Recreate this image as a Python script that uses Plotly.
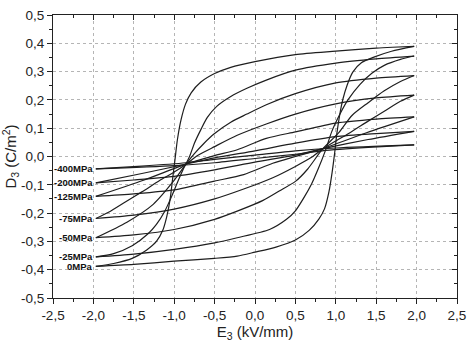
import plotly.graph_objects as go

# ---------------- data ----------------
stress_labels = ["0MPa", "-25MPa", "-50MPa", "-75MPa", "-125MPa", "-200MPa", "-400MPa"]

# 0 MPa loop
up0_E = [1.97, 1.7, 1.5, 1.0, 0.5, 0.0, -0.3, -0.5, -0.67, -0.79, -0.86, -0.915, -0.96, -0.99,
         -1.02, -1.05, -1.09, -1.14, -1.22, -1.34, -1.52, -1.75, -1.97]
up0_D = [0.389, 0.386, 0.383, 0.372, 0.360, 0.335, 0.315, 0.293, 0.263, 0.225, 0.185, 0.130, 0.060, -0.010,
         -0.080, -0.150, -0.210, -0.260, -0.300, -0.330, -0.360, -0.378, -0.388]
lo0_E = [-1.97, -1.5, -1.0, -0.5, -0.22, 0.0, 0.26, 0.5, 0.67, 0.79, 0.86, 0.915, 0.955, 0.985,
         1.015, 1.05, 1.09, 1.14, 1.21, 1.32, 1.48, 1.69, 1.97]
lo0_D = [-0.388, -0.381, -0.370, -0.360, -0.352, -0.338, -0.320, -0.295, -0.261, -0.221, -0.185, -0.125, -0.055, 0.010,
         0.085, 0.150, 0.205, 0.252, 0.298, 0.332, 0.352, 0.372, 0.389]

# -25 MPa loop
up25_E = [1.97, 1.5, 1.0, 0.5, 0.14, -0.1, -0.3, -0.47, -0.59, -0.67, -0.75, -0.81, -0.88, -0.95,
          -1.03, -1.12, -1.22, -1.32, -1.52, -1.75, -1.97]
up25_D = [0.355, 0.345, 0.330, 0.305, 0.270, 0.241, 0.212, 0.178, 0.138, 0.095, 0.047, 0.000, -0.040, -0.085,
          -0.140, -0.195, -0.240, -0.272, -0.315, -0.343, -0.355]
lo25_E = [-1.97, -1.5, -1.0, -0.5, -0.22, 0.18, 0.39, 0.5, 0.6, 0.7, 0.78, 0.87, 0.95, 1.05,
          1.15, 1.3, 1.45, 1.6, 1.8, 1.97]
lo25_D = [-0.355, -0.345, -0.328, -0.305, -0.287, -0.258, -0.222, -0.192, -0.148, -0.097, -0.045, 0.020, 0.088, 0.149,
          0.200, 0.255, 0.295, 0.322, 0.343, 0.355]

# -50 MPa loop
up50_E = [1.97, 1.5, 1.0, 0.5, 0.14, -0.1, -0.3, -0.5, -0.63, -0.75, -0.854, -1.016, -1.26, -1.585, -1.97]
up50_D = [0.286, 0.277, 0.260, 0.222, 0.183, 0.150, 0.121, 0.081, 0.047, 0.010, -0.027, -0.090, -0.169, -0.232, -0.287]
lo50_E = [-1.97, -1.5, -1.0, -0.5, -0.22, 0.1, 0.3, 0.5, 0.65, 0.83, 1.04, 1.2, 1.4, 1.6, 1.8, 1.97]
lo50_D = [-0.287, -0.277, -0.258, -0.222, -0.193, -0.155, -0.122, -0.088, -0.045, 0.024, 0.085, 0.145, 0.190, 0.232, 0.265, 0.286]

# -75 MPa loop
up75_E = [1.97, 1.5, 1.0, 0.5, 0.14, -0.22, -0.5, -0.7, -0.854, -1.0, -1.18, -1.4, -1.6, -1.8, -1.97]
up75_D = [0.217, 0.207, 0.186, 0.150, 0.115, 0.075, 0.035, 0.005, -0.027, -0.055, -0.085, -0.125, -0.160, -0.195, -0.219]
lo75_E = [-1.97, -1.5, -1.0, -0.5, -0.14, 0.22, 0.5, 0.7, 0.83, 1.0, 1.18, 1.4, 1.6, 1.8, 1.97]
lo75_D = [-0.219, -0.207, -0.186, -0.150, -0.115, -0.075, -0.035, -0.003, 0.025, 0.055, 0.085, 0.125, 0.160, 0.195, 0.217]

# -125 MPa loop
up125_E = [1.97, 1.5, 1.0, 0.5, 0.14, -0.22, -0.5, -0.854, -1.38, -1.97]
up125_D = [0.140, 0.132, 0.118, 0.087, 0.064, 0.024, 0.003, -0.027, -0.084, -0.141]
lo125_E = [-1.97, -1.5, -1.0, -0.5, -0.14, 0.22, 0.5, 0.83, 1.38, 1.97]
lo125_D = [-0.141, -0.132, -0.118, -0.087, -0.064, -0.024, 0.000, 0.027, 0.084, 0.140]

# -200 MPa loop
up200_E = [1.97, 1.5, 1.0, 0.5, 0.0, -0.5, -0.854, -1.4, -1.97]
up200_D = [0.089, 0.081, 0.070, 0.047, 0.020, -0.005, -0.027, -0.060, -0.093]
lo200_E = [-1.97, -1.5, -1.0, -0.5, 0.0, 0.5, 0.83, 1.4, 1.97]
lo200_D = [-0.093, -0.083, -0.070, -0.047, -0.020, 0.005, 0.027, 0.060, 0.089]

# -400 MPa loop
up400_E = [1.97, 1.0, 0.5, 0.0, -0.5, -0.854, -1.4, -1.97]
up400_D = [0.041, 0.030, 0.020, 0.005, -0.010, -0.022, -0.034, -0.044]
lo400_E = [-1.97, -1.0, -0.5, 0.0, 0.5, 0.83, 1.4, 1.97]
lo400_D = [-0.044, -0.032, -0.022, -0.007, 0.008, 0.020, 0.032, 0.041]

x_tickvals = [-2.5, -2.0, -1.5, -1.0, -0.5, 0.0, 0.5, 1.0, 1.5, 2.0, 2.5]
x_ticktext = ["-2,5", "-2,0", "-1,5", "-1,0", "-0,5", "0,0", "0,5", "1,0", "1,5", "2,0", "2,5"]
y_tickvals = [-0.5, -0.4, -0.3, -0.2, -0.1, 0.0, 0.1, 0.2, 0.3, 0.4, 0.5]
y_ticktext = ["-0,5", "-0,4", "-0,3", "-0,2", "-0,1", "0,0", "0,1", "0,2", "0,3", "0,4", "0,5"]

loops = [
    (up0_E, up0_D, lo0_E, lo0_D),
    (up25_E, up25_D, lo25_E, lo25_D),
    (up50_E, up50_D, lo50_E, lo50_D),
    (up75_E, up75_D, lo75_E, lo75_D),
    (up125_E, up125_D, lo125_E, lo125_D),
    (up200_E, up200_D, lo200_E, lo200_D),
    (up400_E, up400_D, lo400_E, lo400_D),
]

# ---------------- figure ----------------
FONT = "Liberation Sans, Arial, sans-serif"
LINE_COLOR = "#1e1e1e"

fig = go.Figure()
for lab, (uE, uD, lE, lD) in zip(stress_labels, loops):
    for xs, ys in ((uE, uD), (lE, lD)):
        fig.add_trace(go.Scatter(
            x=xs, y=ys, mode="lines",
            line=dict(color=LINE_COLOR, width=1.2, shape="spline", smoothing=0.7),
            showlegend=False, hoverinfo="skip"))
    fig.add_annotation(
        x=lE[0], y=lD[0], text="<b>" + lab + "</b>", showarrow=False,
        xanchor="right", yanchor="middle", xshift=-1,
        font=dict(family=FONT, size=9.5, color="#111"))

# invisible trace to activate the mirrored (top/right) axes
fig.add_trace(go.Scatter(x=[0], y=[0], xaxis="x2", yaxis="y2", mode="markers",
                         marker=dict(opacity=0), showlegend=False, hoverinfo="skip"))

axis_common = dict(
    showline=True, linecolor="#222", linewidth=1,
    zeroline=False, tickcolor="#222", tickwidth=1,
    tickfont=dict(family=FONT, size=13.5, color="#222"),
)

fig.update_layout(
    width=474, height=345,
    margin=dict(l=53, r=11, t=8, b=45),
    paper_bgcolor="white", plot_bgcolor="white",
    font=dict(family=FONT, color="#222"),
    xaxis=dict(
        range=[-2.5, 2.5], tickmode="array", tickvals=x_tickvals, ticktext=x_ticktext,
        ticks="outside", ticklen=5, ticklabeloverflow="allow",
        showgrid=True, gridcolor="#b5b5b5", griddash="dot", gridwidth=1,
        minor=dict(tickmode="linear", tick0=-2.5, dtick=0.25, ticks="outside", ticklen=3,
                   tickcolor="#222", showgrid=False),
        title=dict(text="E<sub>3</sub> (kV/mm)", font=dict(family=FONT, size=15, color="#222"), standoff=3),
        **axis_common),
    yaxis=dict(
        range=[-0.5, 0.5], tickmode="array", tickvals=y_tickvals, ticktext=y_ticktext,
        ticks="outside", ticklen=5, ticklabeloverflow="allow",
        showgrid=True, gridcolor="#b5b5b5", griddash="dot", gridwidth=1,
        minor=dict(tickmode="linear", tick0=-0.5, dtick=0.05, ticks="outside", ticklen=3,
                   tickcolor="#222", showgrid=False),
        title=dict(text="D<sub>3</sub> (C/m<sup>2</sup>)", font=dict(family=FONT, size=15, color="#222"), standoff=3),
        **axis_common),
    xaxis2=dict(
        overlaying="x", side="top", range=[-2.5, 2.5], tickmode="array", tickvals=x_tickvals,
        ticks="inside", ticklen=5, showticklabels=False, showgrid=False,
        minor=dict(tickmode="linear", tick0=-2.5, dtick=0.25, ticks="inside", ticklen=3,
                   tickcolor="#222", showgrid=False),
        **axis_common),
    yaxis2=dict(
        overlaying="y", side="right", range=[-0.5, 0.5], tickmode="array", tickvals=y_tickvals,
        ticks="inside", ticklen=5, showticklabels=False, showgrid=False,
        minor=dict(tickmode="linear", tick0=-0.5, dtick=0.05, ticks="inside", ticklen=3,
                   tickcolor="#222", showgrid=False),
        **axis_common),
)

fig.write_html("out.html")
